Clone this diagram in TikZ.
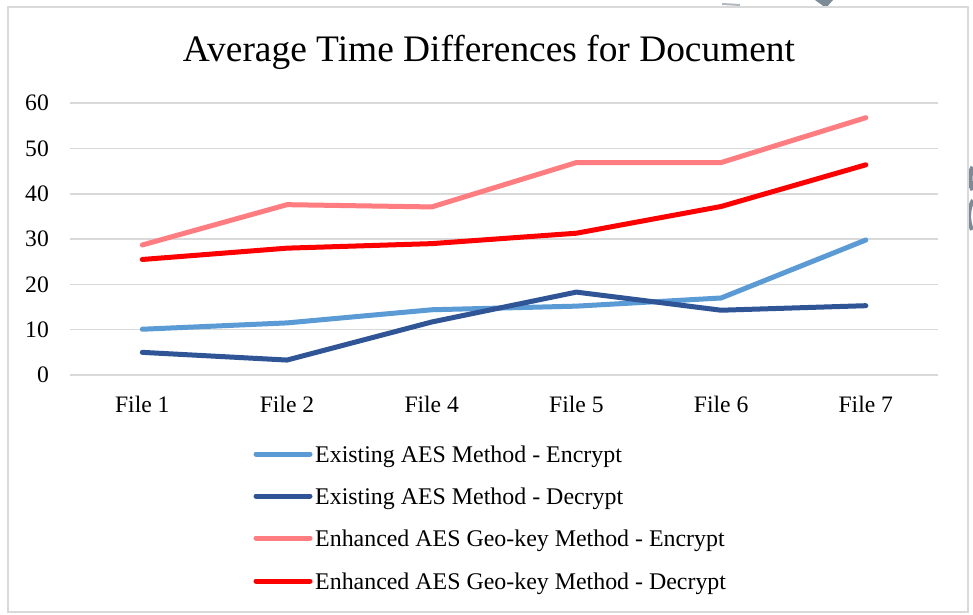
\documentclass[tikz,border=0pt]{standalone}
\usepackage{fontspec}
\setmainfont{Liberation Serif}
\usetikzlibrary{calc}

\definecolor{existenc}{HTML}{5B9BD5}
\definecolor{existdec}{HTML}{2F5597}
\definecolor{geoenc}{HTML}{FF7C80}
\definecolor{geodec}{HTML}{FF0000}
\definecolor{gridgray}{HTML}{D9D9D9}
\definecolor{slate}{HTML}{7D8B98}

\begin{document}
\begin{tikzpicture}[x=1pt,y=1pt,
  gridline/.style={gridgray, line width=1.5pt},
  series/.style={line width=5pt, line cap=round, line join=round},
  lbl/.style={inner sep=0pt, font=\fontsize{23.6}{28}\selectfont},
  keytext/.style={inner sep=0pt, anchor=base west, font=\fontsize{23.9}{28}\selectfont}]

\useasboundingbox (0,0) rectangle (973,614);
\fill [white] (0,0) rectangle (973,614);

% bits of the page behind the chart
\fill [slate] (815,614) -- (833,614) -- (826,606) -- cycle;
\draw [slate!60, line width=2pt] (722,610) -- (740,609);
\draw [slate, line width=5pt] (973,447) .. controls (969,440) and (969,432) .. (973,424);
\draw [slate, line width=4pt] (973,414) .. controls (968,405) and (968,393) .. (972,384);

\draw [gridgray, line width=1.2pt] (8,2) rectangle (968,607);

\node [inner sep=0pt, anchor=base, font=\fontsize{37.4}{44}\selectfont] (title) at (489,552) {Average Time Differences for Document};


% y axis, 0 at 239, 10 units = 45.3
\foreach \v in {0,10,...,60}{
  \draw [gridline] (70,239+4.53*\v) -- (938,239+4.53*\v);
  \node [lbl, anchor=east] (y\v) at (49,239+4.53*\v) {\v};
}

\node [lbl, anchor=base] (f1) at (142.3,202) {File 1};
\node [lbl, anchor=base] (f2) at (287,202) {File 2};
\node [lbl, anchor=base] (f4) at (431.7,202) {File 4};
\node [lbl, anchor=base] (f5) at (576.4,202) {File 5};
\node [lbl, anchor=base] (f6) at (721.1,202) {File 6};
\node [lbl, anchor=base] (f7) at (865.8,202) {File 7};


\begin{scope}[shift={(0,239)}, y=4.53pt]
\draw [series, existenc] (142.3,10.1) -- (287,11.5) -- (431.7,14.4) -- (576.4,15.2) -- (721.1,17.0) -- (865.8,29.8);
\draw [series, existdec] (142.3,5.0) -- (287,3.3) -- (431.7,11.7) -- (576.4,18.3) -- (721.1,14.3) -- (865.8,15.3);
\draw [series, geoenc] (142.3,28.7) -- (287,37.6) -- (431.7,37.1) -- (576.4,46.9) -- (721.1,46.9) -- (865.8,56.8);
\draw [series, geodec] (142.3,25.5) -- (287,28.0) -- (431.7,29.0) -- (576.4,31.3) -- (721.1,37.2) -- (865.8,46.4);
\end{scope}


% legend
\coordinate (k1a) at (256,160);
\coordinate (k1b) at (310,160);
\coordinate (k2a) at (256,118);
\coordinate (k2b) at (310,118);
\coordinate (k3a) at (256,76);
\coordinate (k3b) at (310,76);
\coordinate (k4a) at (256,33);
\coordinate (k4b) at (310,33);

\draw [series, existenc] (k1a) -- (k1b);
\draw [series, existdec] (k2a) -- (k2b);
\draw [series, geoenc] (k3a) -- (k3b);
\draw [series, geodec] (k4a) -- (k4b);

\node [keytext] (leg1) at ($(k1b)+(5,-8)$) {Existing AES Method - Encrypt};
\node [keytext] (leg2) at ($(k2b)+(5,-8)$) {Existing AES Method - Decrypt};
\node [keytext] (leg3) at ($(k3b)+(5,-8)$) {Enhanced AES Geo-key Method - Encrypt};
\node [keytext] (leg4) at ($(k4b)+(5,-8)$) {Enhanced AES Geo-key Method - Decrypt};

\end{tikzpicture}
\end{document}
